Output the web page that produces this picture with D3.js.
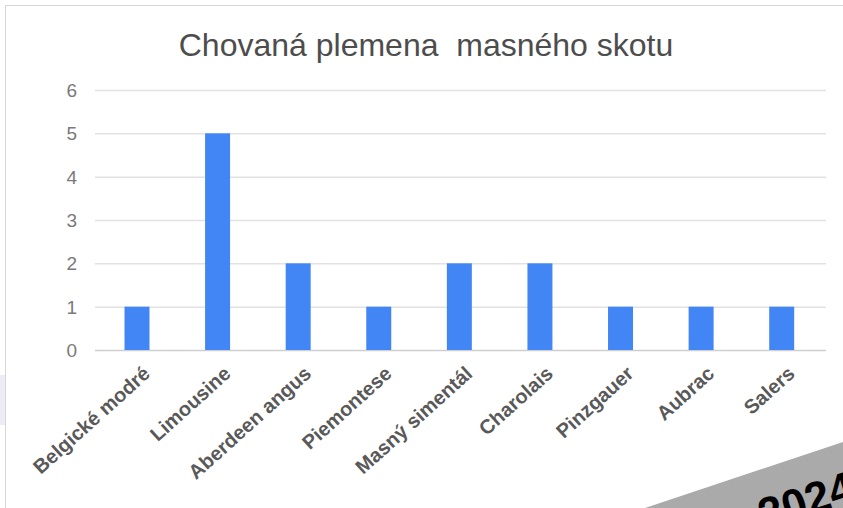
<!DOCTYPE html>
<html>
<head>
<meta charset="utf-8">
<script src="https://cdn.jsdelivr.net/npm/d3@7"></script>
<style>
  body { margin: 0; background: #fff; }
  svg { display: block; }
</style>
</head>
<body>
<svg id="chart" width="843" height="508"></svg>
<script>
var breeds = ["Belgické modré", "Limousine", "Aberdeen angus", "Piemontese", "Masný simentál", "Charolais", "Pinzgauer", "Aubrac", "Salers"];
var counts = [1, 5, 2, 1, 2, 2, 1, 1, 1];
var yTicks = [0, 1, 2, 3, 4, 5, 6];
var titleText = "Chovaná plemena\u00a0 masného skotu";
var stampText = "2024";

var svg = d3.select("#chart"),
    W = 843, H = 508,
    plotL = 96.7, plotR = 822, plotT = 90, plotB = 350;

// page frame around the screenshot
svg.append("rect").attr("x", 0).attr("y", 0).attr("width", W).attr("height", H).attr("fill", "#fff");
svg.append("rect").attr("x", 0).attr("y", 375).attr("width", 5).attr("height", 50).attr("fill", "#eeebf7");
svg.append("line").attr("x1", 5.5).attr("y1", 5.5).attr("x2", 5.5).attr("y2", H).attr("stroke", "#d6d6d6");
svg.append("line").attr("x1", 5.5).attr("y1", 5.5).attr("x2", W).attr("y2", 5.5).attr("stroke", "#d6d6d6");

var x = d3.scaleBand().domain(breeds).range([plotL, plotR]).paddingInner(0.69).paddingOuter(0.345);
var y = d3.scaleLinear().domain([0, 6]).range([plotB, plotT]);

svg.append("text")
    .attr("x", 426).attr("y", 56)
    .attr("text-anchor", "middle")
    .style("font-family", "Liberation Sans, Arial, sans-serif")
    .style("font-size", "32px")
    .style("fill", "#4d4d4d")
    .text(titleText);

// gridlines
svg.append("g")
    .selectAll("line")
    .data(yTicks)
    .enter()
    .append("line")
        .attr("x1", 95).attr("x2", 826)
        .attr("y1", function (d) { return y(d) + 0.5; })
        .attr("y2", function (d) { return y(d) + 0.5; })
        .attr("stroke", function (d) { return d === 0 ? "#cfcfcf" : "#e2e2e2"; })
        .attr("stroke-width", 1.5);

// y labels
svg.append("g")
    .selectAll("text")
    .data(yTicks)
    .enter()
    .append("text")
        .attr("x", 77)
        .attr("y", function (d) { return y(d); })
        .attr("dy", "0.36em")
        .attr("text-anchor", "end")
        .style("font-family", "Liberation Sans, Arial, sans-serif")
        .style("font-size", "19px")
        .style("fill", "#7a7a7a")
        .text(function (d) { return d; });

// bars
svg.append("g")
    .selectAll("rect")
    .data(counts)
    .enter()
    .append("rect")
        .attr("x", function (d, i) { return x(breeds[i]); })
        .attr("y", function (d) { return y(d); })
        .attr("width", x.bandwidth())
        .attr("height", function (d) { return y(0) - y(d); })
        .attr("fill", "#4285f4");

// x labels
svg.append("g")
    .selectAll("text")
    .data(breeds)
    .enter()
    .append("text")
        .attr("transform", function (d) {
            return "translate(" + (x(d) + x.bandwidth() / 2 + 5) + ",365) rotate(-42)";
        })
        .attr("dy", "0.7em")
        .attr("text-anchor", "end")
        .style("font-family", "Liberation Sans, Arial, sans-serif")
        .style("font-size", "20px")
        .style("font-weight", "bold")
        .style("fill", "#595959")
        .text(function (d) { return d; });

// corner stamp
svg.append("path")
    .attr("d", "M645,508 L843,442 L843,508 Z")
    .attr("fill", "#aaaaaa");
svg.append("text")
    .attr("transform", "translate(764,530) rotate(-18)")
    .style("font-family", "Liberation Sans, Arial, sans-serif")
    .style("font-size", "44px")
    .style("font-weight", "bold")
    .style("fill", "#000")
    .text(stampText);
</script>
</body>
</html>
